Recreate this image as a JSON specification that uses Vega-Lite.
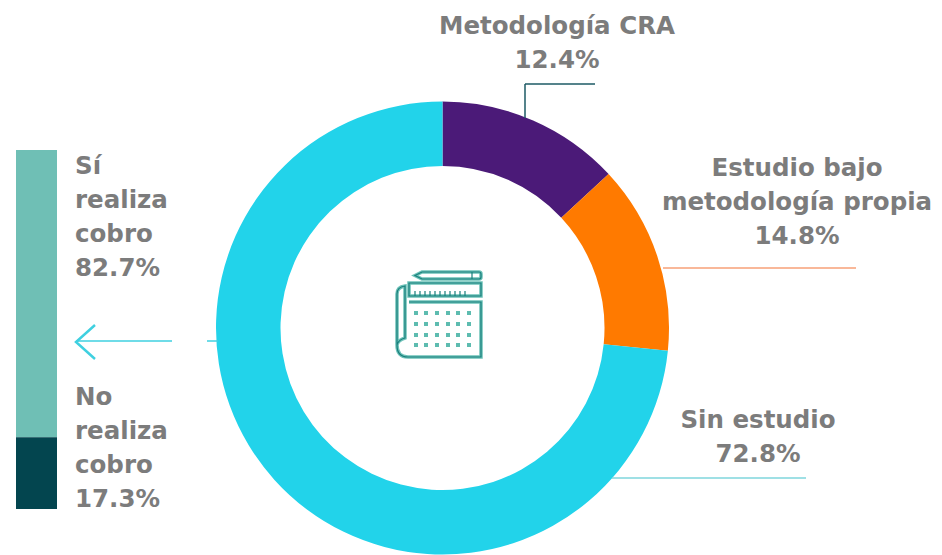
{
"$schema":"https://vega.github.io/schema/vega-lite/v6.json",
"width":942,"height":555,"padding":0,
"autosize":{"type":"fit","contains":"padding"},
"background":"white",
"config":{"view":{"stroke":null},"text":{"font":"DejaVu Sans","fontSize":24.5,"fontWeight":700,"fill":"#7c7c7c","lineHeight":34}},
"layer":[
{"data":{"values":[{"categoria":"Metodología CRA","valor":13.1,"orden":1},{"categoria":"Estudio bajo metodología propia","valor":13.5,"orden":2},{"categoria":"Sin estudio","valor":73.4,"orden":3}]},
 "mark":{"type":"arc","innerRadius":162,"outerRadius":226.5},
 "encoding":{"theta":{"field":"valor","type":"quantitative","stack":true,"scale":{"domain":[0,100]}},"order":{"field":"orden"},"x":{"value":442.5},"y":{"value":328},
  "color":{"field":"categoria","type":"nominal","legend":null,"scale":{"domain":["Metodología CRA","Estudio bajo metodología propia","Sin estudio","Sí realiza cobro","No realiza cobro"],"range":["#4b1a78","#ff7a00","#22d3ea","#6fbfb5","#03454f"]}}}},
{"data":{"values":[{"categoria":"Sí realiza cobro","valor":80,"orden":1},{"categoria":"No realiza cobro","valor":20,"orden":2}]},
 "transform":[{"stack":"valor","groupby":[],"sort":[{"field":"orden","order":"ascending"}],"as":["inicio","fin"]}],
 "mark":{"type":"rect"},
 "encoding":{"y":{"field":"inicio","type":"quantitative","axis":null,"scale":{"domain":[0,100],"range":[150,509]}},"y2":{"field":"fin"},"x":{"value":16},"x2":{"value":57},
  "color":{"field":"categoria","type":"nominal","legend":null}}},
{"data":{"values":[{"t":"CRA v"}]},"mark":{"type":"rule","stroke":"#1c5a64","strokeWidth":1.5},"encoding":{"x":{"value":525},"y":{"value":84},"y2":{"value":118}}},
{"data":{"values":[{"t":"CRA h"}]},"mark":{"type":"rule","stroke":"#1c5a64","strokeWidth":1.5},"encoding":{"y":{"value":84},"x":{"value":525},"x2":{"value":595}}},
{"data":{"values":[{"t":"propia"}]},"mark":{"type":"rule","stroke":"#f9b899","strokeWidth":2},"encoding":{"y":{"value":268},"x":{"value":663},"x2":{"value":856}}},
{"data":{"values":[{"t":"sin"}]},"mark":{"type":"rule","stroke":"#7fd6dc","strokeWidth":1.5},"encoding":{"y":{"value":478},"x":{"value":612},"x2":{"value":806}}},
{"data":{"values":[{"t":"flecha 1"}]},"mark":{"type":"rule","stroke":"#3fd0e0","strokeWidth":1.5},"encoding":{"y":{"value":341},"x":{"value":76},"x2":{"value":172}}},
{"data":{"values":[{"t":"flecha 2"}]},"mark":{"type":"rule","stroke":"#3fd0e0","strokeWidth":1.5},"encoding":{"y":{"value":341},"x":{"value":207},"x2":{"value":218}}},
{"data":{"values":[{"t":"flecha punta"}]},"mark":{"type":"point","shape":"M19,-17 L0,0 L19,17","size":4,"filled":false,"stroke":"#3fd0e0","strokeWidth":2.5,"opacity":1,"x":76,"y":342},"encoding":{}},
{"data":{"values":[{"t":"icono"}]},"mark":{"type":"point","size":4,"filled":false,"opacity":1,"stroke":"#6cc2b8","strokeWidth":3.5,"x":438,"y":314,
 "shape":"M-23,-38.5 L-16,-42 L41,-42 Q43,-42 43,-40 L43,-37 Q43,-35 41,-35 L-16,-35 Z M-29,-31 H43 V-18 H-29 Z M-29,-12 H43 V43 H-30 Q-41,43 -41,31 V-20 Q-41,-27 -33,-28 V24 Q-40,26 -41,31"},"encoding":{}},
{"data":{"values":[{"t":"icono linea"}]},"mark":{"type":"point","size":4,"filled":false,"opacity":1,"stroke":"#1a7f7c","strokeWidth":1.2,"x":438,"y":314,
 "shape":"M-23,-38.5 L-16,-42 L41,-42 Q43,-42 43,-40 L43,-37 Q43,-35 41,-35 L-16,-35 Z M34,-42 V-35 M-29,-31 H43 V-18 H-29 Z M-23,-23 V-18 M-18,-23 V-18 M-13,-23 V-18 M-8,-23 V-18 M-3,-23 V-18 M2,-23 V-18 M7,-23 V-18 M12,-23 V-18 M17,-23 V-18 M22,-23 V-18 M27,-23 V-18 M-29,-12 H43 V43 H-30 Q-41,43 -41,31 V-20 Q-41,-27 -33,-28 V24 Q-40,26 -41,31"},"encoding":{}},
{"data":{"values":[{"t":"icono puntos"}]},"mark":{"type":"point","size":4,"filled":true,"opacity":1,"fill":"#5dbcb0","stroke":null,"x":438,"y":314,
 "shape":"M-24,-3h4v4h-4z M-14,-3h4v4h-4z M-3,-3h4v4h-4z M8,-3h4v4h-4z M18,-3h4v4h-4z M29,-3h4v4h-4z M-24,8h4v4h-4z M-14,8h4v4h-4z M-3,8h4v4h-4z M8,8h4v4h-4z M18,8h4v4h-4z M29,8h4v4h-4z M-24,19h4v4h-4z M-14,19h4v4h-4z M-3,19h4v4h-4z M8,19h4v4h-4z M18,19h4v4h-4z M29,19h4v4h-4z M-24,29h4v4h-4z M-14,29h4v4h-4z M-3,29h4v4h-4z M8,29h4v4h-4z M18,29h4v4h-4z M29,29h4v4h-4z"},"encoding":{}},
{"data":{"values":[{"texto":["Metodología CRA","12.4%"]}]},"mark":{"type":"text","align":"center","baseline":"alphabetic","x":557,"y":34},"encoding":{"text":{"field":"texto"}}},
{"data":{"values":[{"texto":["Estudio bajo","metodología propia","14.8%"]}]},"mark":{"type":"text","align":"center","baseline":"alphabetic","x":797,"y":176},"encoding":{"text":{"field":"texto"}}},
{"data":{"values":[{"texto":["Sin estudio","72.8%"]}]},"mark":{"type":"text","align":"center","baseline":"alphabetic","x":758,"y":428},"encoding":{"text":{"field":"texto"}}},
{"data":{"values":[{"texto":["Sí","realiza","cobro","82.7%"]}]},"mark":{"type":"text","align":"left","baseline":"alphabetic","x":75,"y":174},"encoding":{"text":{"field":"texto"}}},
{"data":{"values":[{"texto":["No","realiza","cobro","17.3%"]}]},"mark":{"type":"text","align":"left","baseline":"alphabetic","x":75,"y":405},"encoding":{"text":{"field":"texto"}}}
]
}
